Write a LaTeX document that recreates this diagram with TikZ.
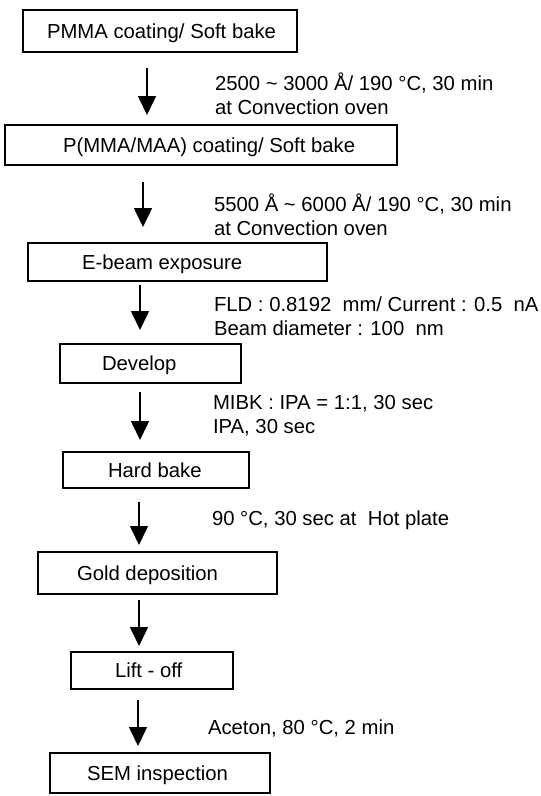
\documentclass[tikz,border=0pt]{standalone}
\usepackage{fontspec}
\setmainfont{Liberation Sans}
\usetikzlibrary{arrows.meta}
\begin{document}
\begin{tikzpicture}[x=1pt,y=-1pt,
  box/.style={draw=black,line width=1.5pt,rectangle,inner sep=0pt,outer sep=0pt},
  lbl/.style={anchor=base west,inner sep=0pt,outer sep=0pt,font=\fontsize{20.3pt}{24pt}\selectfont},
  arr/.style={line width=1.6pt,-{Triangle[width=18pt,length=19pt]}}]
\useasboundingbox[fill=white] (0,0) rectangle (541,796);
% boxes
\node[box,minimum width=274pt,minimum height=42pt] (b1) at (160,31) {};
\node[box,minimum width=392pt,minimum height=40pt] (b2) at (201,145) {};
\node[box,minimum width=299pt,minimum height=38pt] (b3) at (177.5,262) {};
\node[box,minimum width=181pt,minimum height=39pt] (b4) at (150.5,363.5) {};
\node[box,minimum width=186pt,minimum height=36pt] (b5) at (156,470) {};
\node[box,minimum width=239pt,minimum height=42pt] (b6) at (157.5,573) {};
\node[box,minimum width=162pt,minimum height=37pt] (b7) at (152,670.5) {};
\node[box,minimum width=220pt,minimum height=40pt] (b8) at (160,773) {};
% box labels
\node[lbl] (l1) at (47,38) {PMMA coating/ Soft bake};
\node[lbl] (l2) at (63,152) {P(MMA/MAA) coating/ Soft bake};
\node[lbl] (l3) at (82,269) {E-beam exposure};
\node[lbl] (l4) at (102,370) {Develop};
\node[lbl] (l5) at (108,477) {Hard bake};
\node[lbl] (l6) at (77,580) {Gold deposition};
\node[lbl] (l7) at (115,677) {Lift - off};
\node[lbl] (l8) at (87,780) {SEM inspection};
% arrows
\coordinate (s1) at (147,68);
\coordinate (s2) at (143,182);
\coordinate (s3) at (140,285);
\coordinate (s4) at (140,392);
\coordinate (s5) at (139,502);
\coordinate (s6) at (139,600);
\coordinate (s7) at (138,700);
\draw[arr,shorten >=10pt] (s1) -- (s1 |- b2.north);
\draw[arr,shorten >=16pt] (s2) -- (s2 |- b3.north);
\draw[arr,shorten >=14pt] (s3) -- (s3 |- b4.north);
\draw[arr,shorten >=12pt] (s4) -- (s4 |- b5.north);
\draw[arr,shorten >=7pt] (s5) -- (s5 |- b6.north);
\draw[arr,shorten >=6pt] (s6) -- (s6 |- b7.north);
\draw[arr,shorten >=7pt] (s7) -- (s7 |- b8.north);
% step conditions
\node[lbl] (c1a) at (215,90) {2500 \textasciitilde\ 3000 Å/ 190 °C, 30 min};
\node[lbl] (c1b) at (215,114) {at Convection oven};
\node[lbl] (c2a) at (214,211) {5500 Å \textasciitilde\ 6000 Å/ 190 °C, 30 min};
\node[lbl] (c2b) at (214,235) {at Convection oven};
\node[lbl] (c3a) at (214,311) {FLD : 0.8192 \ mm/ Current : 0.5 \ nA};
\node[lbl] (c3b) at (214,335) {Beam diameter : 100 \ nm};
\node[lbl] (c4a) at (213,409) {MIBK : IPA = 1:1, 30 sec};
\node[lbl] (c4b) at (213,433) {IPA, 30 sec};
\node[lbl] (c5) at (212,525) {90 °C, 30 sec at \ Hot plate};
\node[lbl] (c6) at (208,734) {Aceton, 80 °C, 2 min};
\end{tikzpicture}
\end{document}
